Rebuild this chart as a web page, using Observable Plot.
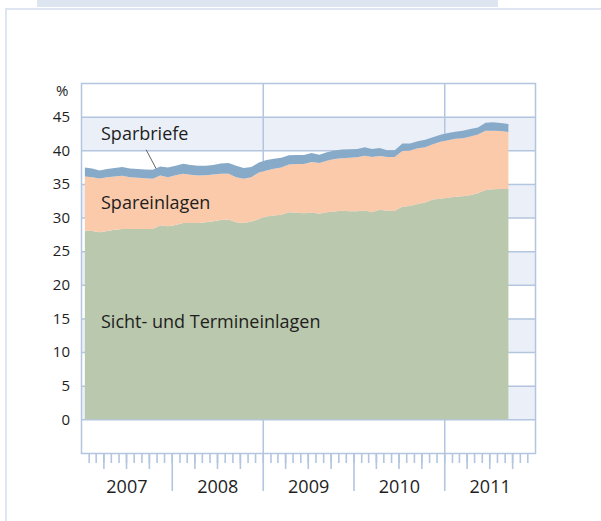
<!DOCTYPE html>
<html><head><meta charset="utf-8">
<script src="https://cdn.jsdelivr.net/npm/d3@7"></script>
<script src="https://cdn.jsdelivr.net/npm/@observablehq/plot@0.6"></script>
<style>
html,body{margin:0;padding:0;background:#fff;}
#wrap{position:relative;width:601px;height:521px;overflow:hidden;font-family:"Open Sans",sans-serif;}
.strip{position:absolute;left:37px;top:0;width:461px;height:7px;background:#dde5f0;}
.bl{position:absolute;left:5px;top:8px;width:2px;height:513px;background:#dfe6f1;}
.bt{position:absolute;left:5px;top:8px;width:596px;height:2px;background:#dfe6f1;}
#chart{position:absolute;left:0;top:0;}
</style></head><body>
<div id="wrap"><div class="strip"></div><div class="bt"></div><div class="bl"></div><div id="chart"></div></div>
<script>
// Series names (bottom to top of the stack)
const seriesNames = ["Sicht- und Termineinlagen", "Spareinlagen", "Sparbriefe"];
const seriesColors = ["#bac8ad", "#fbcaab", "#88aac9"];

// Monthly observations Jan 2007 – Sep 2011 (% share)
const sicht = [
  28.05, 28.0, 27.8, 28.0, 28.2, 28.3, 28.3, 28.3, 28.3, 28.3, 28.85, 28.7,
  28.9, 29.2, 29.2, 29.2, 29.3, 29.45, 29.65, 29.7, 29.3, 29.2, 29.4, 29.8,
  30.15, 30.3, 30.4, 30.8, 30.7, 30.65, 30.75, 30.55, 30.8, 30.9, 31.0, 30.95,
  30.95, 31.05, 30.8, 31.15, 31.0, 31.0, 31.6, 31.7, 32.0, 32.25, 32.7, 32.8,
  32.95, 33.1, 33.15, 33.3, 33.6, 34.1, 34.2, 34.25, 34.25
];
const spareinlagen = [
  8.05, 8.0, 8.0, 8.0, 7.9, 7.9, 7.7, 7.6, 7.55, 7.45, 7.4, 7.3,
  7.4, 7.3, 7.15, 7.05, 7.0, 6.95, 6.85, 6.8, 6.7, 6.55, 6.6, 6.9,
  6.85, 6.95, 7.05, 7.1, 7.25, 7.3, 7.5, 7.55, 7.65, 7.8, 7.8, 7.95,
  8.0, 8.15, 8.2, 8.0, 8.0, 8.0, 8.3, 8.25, 8.3, 8.2, 8.2, 8.45,
  8.55, 8.6, 8.65, 8.75, 8.75, 8.8, 8.7, 8.6, 8.45
];
const sparbriefe = [
  1.35, 1.3, 1.2, 1.2, 1.25, 1.3, 1.3, 1.3, 1.3, 1.35, 1.35, 1.45,
  1.4, 1.5, 1.45, 1.45, 1.4, 1.4, 1.55, 1.6, 1.7, 1.6, 1.5, 1.5,
  1.55, 1.5, 1.45, 1.35, 1.35, 1.35, 1.35, 1.25, 1.25, 1.25, 1.3, 1.25,
  1.25, 1.25, 1.2, 1.2, 1.0, 1.0, 1.1, 1.05, 1.05, 1.1, 1.05, 1.05,
  1.05, 1.05, 1.1, 1.1, 1.05, 1.2, 1.25, 1.2, 1.2
];

const years = [2007, 2008, 2009, 2010, 2011];
const yTicks = [0, 5, 10, 15, 20, 25, 30, 35, 40, 45];
const bandStarts = [0, 10, 20, 30, 40];
const gridYears = [2009, 2011];

// Annotation labels
const labels = [
  {text: "Sparbriefe", y: 42.4},
  {text: "Spareinlagen", y: 32.2},
  {text: "Sicht- und Termineinlagen", y: 14.55}
];
const leader = [{x1: Date.UTC(2007, 8, 18), y1: 40.15, x2: Date.UTC(2007, 9, 28), y2: 37.35}];

const U = (y, m, d = 1) => new Date(Date.UTC(y, m, d));
const xStart = U(2007, 0), xEnd = U(2012, 0);
const months = d3.utcMonth.range(U(2007, 0), U(2011, 8, 2));
const mid = m => new Date((+m + +d3.utcMonth.offset(m, 1)) / 2);

const rows = [];
const vals = [sicht, spareinlagen, sparbriefe];
months.forEach((m, i) => {
  seriesNames.forEach((s, k) => rows.push({date: mid(m), series: s, value: vals[k][i]}));
});

const monthTicks = d3.utcMonth.range(U(2007, 1), U(2012, 0));
const quarterTicks = monthTicks.filter(d => d.getUTCMonth() % 3 === 0 && d.getUTCMonth() !== 0);
const yearTicks = years.slice(1).map(y => U(y, 0));
const yearMids = years.map(y => new Date((+U(y, 0) + +U(y + 1, 0)) / 2));

const gridC = "#b3c5df";
const txt = "#1e1e1e";

const chart = Plot.plot({
  width: 601, height: 521,
  marginLeft: 81, marginRight: 66, marginTop: 83, marginBottom: 68,
  style: {fontFamily: "'Open Sans', sans-serif", background: "transparent", overflow: "visible"},
  x: {type: "utc", domain: [xStart, xEnd], axis: null},
  y: {domain: [-5, 50], axis: null},
  color: {domain: seriesNames, range: seriesColors},
  marks: [
    Plot.rect(bandStarts, {x1: () => xStart, x2: () => xEnd, y1: d => d, y2: d => d + 5, fill: "#ebf0f8"}),
    Plot.ruleY(yTicks, {stroke: gridC, strokeWidth: 1.5}),
    Plot.ruleX(gridYears.map(y => U(y, 0)), {stroke: gridC, strokeWidth: 1.5}),
    Plot.areaY(rows, Plot.stackY({x: "date", y: "value", fill: "series", order: seriesNames})),
    Plot.frame({stroke: gridC, strokeWidth: 1.5}),
    Plot.axisX({ticks: monthTicks, tickSize: 10, tickFormat: () => "", stroke: gridC, strokeWidth: 1.6}),
    Plot.axisX({ticks: quarterTicks, tickSize: 16, tickFormat: () => "", stroke: gridC, strokeWidth: 1.6}),
    Plot.axisX({ticks: yearTicks, tickSize: 38, tickFormat: () => "", stroke: gridC, strokeWidth: 1.6}),
    Plot.text(yearMids, {x: d => d, frameAnchor: "bottom", lineAnchor: "middle", dy: 33.5, text: d => String(d.getUTCFullYear()), fontSize: 18, fill: txt}),
    Plot.text(yTicks, {y: d => d, frameAnchor: "left", lineAnchor: "middle", dx: -11.5, textAnchor: "end", text: d => String(d), fontSize: 15, fill: txt}),
    Plot.text(["%"], {frameAnchor: "top-left", lineAnchor: "middle", dx: -13, dy: 8, textAnchor: "end", fontSize: 15, fill: txt}),
    Plot.link(leader, {x1: d => new Date(d.x1), y1: "y1", x2: d => new Date(d.x2), y2: "y2", stroke: "#555", strokeWidth: 0.9}),
    Plot.text(labels, {frameAnchor: "left", lineAnchor: "middle", y: "y", text: "text", dx: 19.5, textAnchor: "start", fontSize: 18, fill: txt})
  ]
});
document.getElementById("chart").appendChild(chart);
</script>
</body></html>
